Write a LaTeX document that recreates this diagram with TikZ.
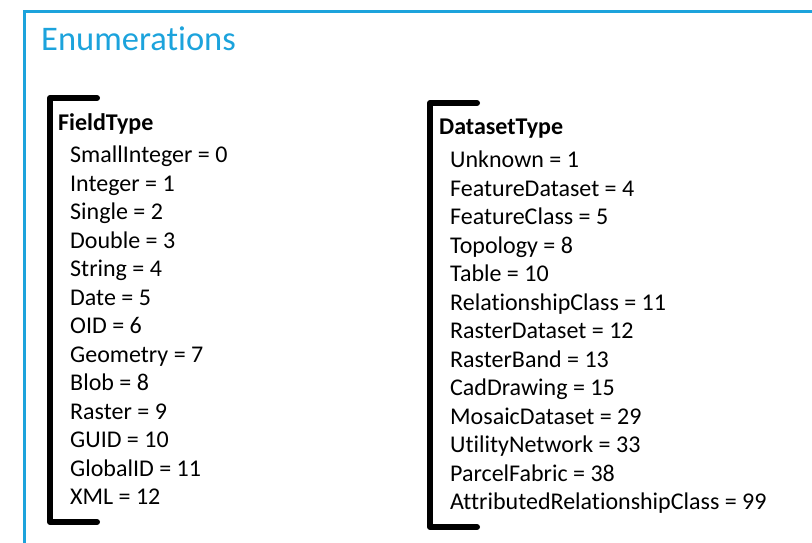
\documentclass[tikz,border=0pt]{standalone}
\usepackage{fontspec}
\setmainfont[Ligatures=NoCommon]{Carlito}
\definecolor{frameblue}{HTML}{1CA3DC}
\tikzset{
  item/.style={anchor=base west, inner sep=0pt, font=\fontsize{24}{28}\selectfont},
  head/.style={item, font=\fontsize{24}{28}\selectfont\bfseries},
  bracket/.style={line width=6pt, line cap=round, line join=round},
}
\begin{document}
\begin{tikzpicture}[x=1pt,y=-1pt]
\useasboundingbox (0,0) rectangle (812,543);
\draw[frameblue, line width=3pt] (820,11.5) -- (24.5,11.5) -- (24.5,550);
\node[anchor=base west, inner sep=0pt, text=frameblue, font=\fontsize{34.5}{40}\selectfont] (title) at (41,50.5) {Enumerations};
% left bracket
\coordinate (l1) at (97,98);
\coordinate (l2) at (50,98);
\coordinate (l3) at (50,522);
\coordinate (l4) at (97,522);
\draw[bracket] (l1) -- (l2) -- (l3) -- (l4);
\node[head] (ft) at (58,131) {FieldType};
\foreach \t [count=\i from 0] in {SmallInteger = 0, Integer = 1, Single = 2, Double = 3, String = 4, Date = 5, OID = 6, Geometry = 7, Blob = 8, Raster = 9, GUID = 10, GlobalID = 11, XML = 12}
  \node[item] (f\i) at (70,162.5+28.5*\i) {\t};
% right bracket
\coordinate (r1) at (477,103);
\coordinate (r2) at (430,103);
\coordinate (r3) at (430,527);
\coordinate (r4) at (477,527);
\draw[bracket] (r1) -- (r2) -- (r3) -- (r4);
\node[head] (dt) at (439,135) {DatasetType};
\foreach \t [count=\i from 0] in {Unknown = 1, FeatureDataset = 4, FeatureClass = 5, Topology = 8, Table = 10, RelationshipClass = 11, RasterDataset = 12, RasterBand = 13, CadDrawing = 15, MosaicDataset = 29, UtilityNetwork = 33, ParcelFabric = 38, AttributedRelationshipClass = 99}
  \node[item] (d\i) at (450,167.5+28.5*\i) {\t};
\end{tikzpicture}
\end{document}
